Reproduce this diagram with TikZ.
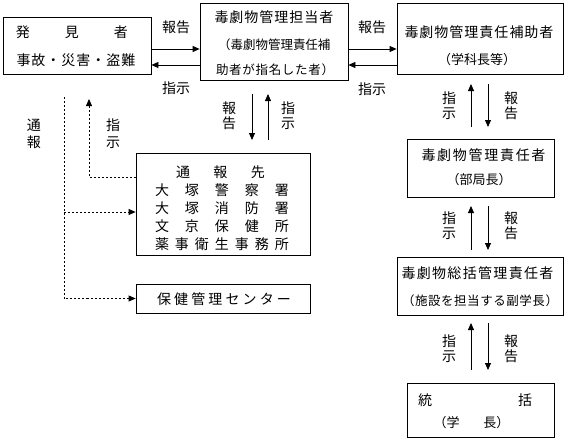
\documentclass[tikz,border=0pt]{standalone}
\usepackage{fontspec}
\setmainfont{Noto Sans CJK JP}
\usetikzlibrary{arrows.meta}
\ExplSyntaxOn
\bool_new:N \l_spr_first_bool
\NewDocumentCommand\spr{mm}
 {
  \makebox[#1][s]{
    \bool_set_true:N \l_spr_first_bool
    \tl_map_inline:nn {#2}
     {
      \bool_if:NF \l_spr_first_bool {\hfil}
      \bool_set_false:N \l_spr_first_bool
      ##1
     }
  }
 }
\ExplSyntaxOff
\begin{document}
\begin{tikzpicture}[x=1pt,y=-1pt,
  box/.style={draw,line width=0.8pt,inner sep=0pt},
  txt/.style={inner sep=0pt,font=\fontsize{14}{16}\selectfont},
  mid/.style={inner sep=0pt,font=\fontsize{13}{15}\selectfont},
  sm/.style={inner sep=0pt,font=\fontsize{12.5}{14}\selectfont},
  vlab/.style={inner sep=0pt,align=center,font=\fontsize{14}{15}\selectfont},
  vlabw/.style={inner sep=0pt,align=center,font=\fontsize{14}{17}\selectfont},
  arr/.style={line width=0.8pt,-{Triangle[length=7pt,width=6pt]}},
  dot/.style={line width=0.8pt,dash pattern=on 2pt off 2pt},
]
\useasboundingbox (0,0) rectangle (566,442);
% boxes
\node[box,minimum width=148pt,minimum height=57pt] (A) at (77,45.5) {};
\node[box,minimum width=148pt,minimum height=77pt] (B) at (274,41.5) {};
\node[box,minimum width=166pt,minimum height=71pt] (C) at (480,38.5) {};
\node[box,minimum width=174pt,minimum height=102pt] (D) at (223,204) {};
\node[box,minimum width=174pt,minimum height=29pt] (E) at (223,298.5) {};
\node[box,minimum width=147pt,minimum height=58pt] (F) at (480.5,168) {};
\node[box,minimum width=166pt,minimum height=58pt] (G) at (480,286) {};
\node[box,minimum width=147pt,minimum height=54pt] (H) at (480.5,410) {};
% box texts
\node[txt] (a1) at (72,32) {\spr{112pt}{発見者}};
\node[txt] (a2) at (76,60) {\spr{119pt}{事故・災害・盗難}};
\node[txt] (b1) at (274,17) {\spr{119pt}{毒劇物管理担当者}};
\node[sm] (b2) at (274,45) {\spr{112pt}{（毒劇物管理責任補}};
\node[sm] (b3) at (275,70) {\spr{118pt}{助者が指名した者）}};
\node[txt] (c1) at (479,32) {\spr{149pt}{毒劇物管理責任補助者}};
\node[mid] (c2) at (477,60) {（学科長等）};
\node[txt] (f1) at (483.5,155) {\spr{124pt}{毒劇物管理責任者}};
\node[mid] (f2) at (479,180) {（部局長）};
\node[txt] (g1) at (477.5,273) {\spr{152pt}{毒劇物総括管理責任者}};
\node[sm] (g2) at (480,301) {\spr{156pt}{（施設を担当する副学長）}};
\node[txt] (h1) at (475,400) {\spr{114pt}{統括}};
\node[mid] (h2) at (471.5,423) {（学\hspace{24pt}長）};
\node[txt] (d0) at (220.5,172) {\spr{89pt}{通報先}};
\node[txt] (d1) at (222,190) {\spr{134pt}{大塚警察署}};
\node[txt] (d2) at (222,208) {\spr{134pt}{大塚消防署}};
\node[txt] (d3) at (222,226) {\spr{134pt}{文京保健所}};
\node[txt] (d4) at (222,244) {\spr{134pt}{薬事衛生事務所}};
\node[txt] (e1) at (224,299) {\spr{134pt}{保健管理センター}};
% horizontal arrows
\draw[arr] (A.east |- 0,49) -- (B.west |- 0,49);
\draw[arr] (B.west |- 0,65) -- (A.east |- 0,65);
\draw[arr] (B.east |- 0,49) -- (C.west |- 0,49);
\draw[arr] (C.west |- 0,65) -- (B.east |- 0,65);
\node[txt] (l1) at (176,27) {報告};
\node[txt] (l2) at (176,88) {指示};
\node[txt] (l3) at (372,27) {報告};
\node[txt] (l4) at (372,89) {指示};
% B - D vertical arrows
\coordinate (bd1) at (252,94); \coordinate (bd2) at (252,140);
\coordinate (bd3) at (268,140); \coordinate (bd4) at (268,94);
\draw[arr] (bd1) -- (bd2);
\draw[arr] (bd3) -- (bd4);
\node[vlab] (v1) at (229,115.5) {報\\告};
\node[vlab] (v2) at (288,115.5) {指\\示};
% dotted lines
\coordinate (dtop) at (64,97);
\coordinate (ctip) at (89,99);
\draw[dot,arr] (dtop) |- (E.west);
\draw[dot,arr] (dtop |- 0,212) -- (D.west |- 0,212);
\draw[dot,arr] (D.west |- 0,177) -| (ctip);
\node[vlabw] (v3) at (34,133.5) {通\\報};
\node[vlabw] (v4) at (113,133.5) {指\\示};
% right column arrows
\coordinate (cf1) at (471,127); \coordinate (cf2) at (471,84);
\coordinate (cf3) at (488,84); \coordinate (cf4) at (488,127);
\draw[arr] (cf1) -- (cf2);
\draw[arr] (cf3) -- (cf4);
\node[vlab] (v5) at (449,105.5) {指\\示};
\node[vlab] (v6) at (511,105.5) {報\\告};
\coordinate (fg1) at (471,250); \coordinate (fg2) at (471,206);
\coordinate (fg3) at (488,206); \coordinate (fg4) at (488,250);
\draw[arr] (fg1) -- (fg2);
\draw[arr] (fg3) -- (fg4);
\node[vlab] (v7) at (449,225.5) {指\\示};
\node[vlab] (v8) at (511,225.5) {報\\告};
\coordinate (gh1) at (471,370); \coordinate (gh2) at (471,323);
\coordinate (gh3) at (488,323); \coordinate (gh4) at (488,370);
\draw[arr] (gh1) -- (gh2);
\draw[arr] (gh3) -- (gh4);
\node[vlab] (v9) at (449,348.5) {指\\示};
\node[vlab] (v10) at (511,348.5) {報\\告};
\end{tikzpicture}
\end{document}
